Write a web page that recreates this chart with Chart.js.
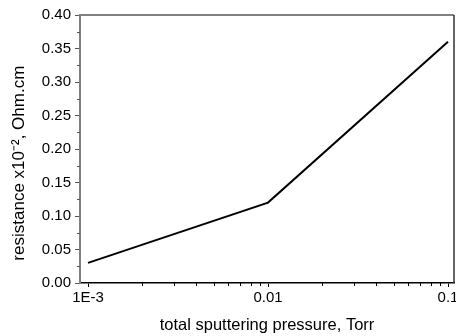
<!DOCTYPE html>
<html>
<head>
<meta charset="utf-8">
<script src="https://cdn.jsdelivr.net/npm/chart.js@4/dist/chart.umd.min.js"></script>
<style>
html,body{margin:0;padding:0;background:#fff;}
canvas{display:block;}
</style>
</head>
<body>
<canvas id="c" width="456" height="336"></canvas>
<script>
const pressure = [0.001, 0.01, 0.1];
const resistance = [0.03, 0.12, 0.36];
const xMajorTicks = [0.001, 0.01, 0.1];
const xTickLabels = ['1E-3', '0.01', '0.1'];
const xMinorTicks = [0.002,0.003,0.004,0.005,0.006,0.007,0.008,0.009,0.02,0.03,0.04,0.05,0.06,0.07,0.08,0.09];
const yMinorTicks = [0.025,0.075,0.125,0.175,0.225,0.275,0.325,0.375];
const xTitle = 'total sputtering pressure, Torr';
const yTitle = 'resistance x10\u207B\u00B2, Ohm.cm';

const FONT = "'Liberation Sans', Arial, sans-serif";

const framePlugin = {
  id: 'frame',
  afterDraw(chart) {
    const ctx = chart.ctx, a = chart.chartArea;
    const xs = chart.scales.x, ys = chart.scales.y;
    ctx.save();
    ctx.strokeStyle = '#808080'; ctx.lineWidth = 2;
    ctx.beginPath(); ctx.moveTo(a.left, a.top); ctx.lineTo(a.right, a.top); ctx.stroke();
    ctx.strokeStyle = '#333'; ctx.lineWidth = 1.5;
    ctx.beginPath(); ctx.moveTo(a.right, a.top); ctx.lineTo(a.right, a.bottom); ctx.stroke();
    ctx.strokeStyle = '#000'; ctx.lineWidth = 1;
    xMinorTicks.forEach(v => {
      const px = Math.round(xs.getPixelForValue(v)) + 0.5;
      ctx.beginPath(); ctx.moveTo(px, a.bottom); ctx.lineTo(px, a.bottom + 3); ctx.stroke();
    });
    ctx.strokeStyle = '#555';
    yMinorTicks.forEach(v => {
      const py = Math.round(ys.getPixelForValue(v)) + 0.5;
      ctx.beginPath(); ctx.moveTo(a.left, py); ctx.lineTo(a.left - 3, py); ctx.stroke();
    });
    ctx.restore();
  }
};

new Chart(document.getElementById('c'), {
  type: 'line',
  data: {
    datasets: [{
      data: pressure.map((p, i) => ({x: p, y: resistance[i]})),
      borderColor: '#000',
      borderWidth: 2,
      pointRadius: 0,
      tension: 0,
      fill: false
    }]
  },
  options: {
    responsive: false,
    animation: false,
    layout: {padding: {top: 15, right: 2, left: 0, bottom: 0}},
    plugins: {legend: {display: false}, tooltip: {enabled: false}},
    scales: {
      x: {
        type: 'logarithmic',
        min: 0.0009027,
        max: 0.10797,
        afterBuildTicks(scale) {
          scale.ticks = xMajorTicks.map(v => ({value: v, major: true}));
        },
        afterFit(scale) {
          scale.height = 53;
          scale.paddingLeft = 0;
          scale.paddingRight = 0;
        },
        ticks: {
          autoSkip: false,
          maxRotation: 0,
          color: '#000',
          font: {family: FONT, size: 15},
          padding: 2,
          callback(value) {
            const i = xMajorTicks.indexOf(value);
            return i >= 0 ? xTickLabels[i] : '';
          }
        },
        grid: {drawOnChartArea: false, tickLength: 4, tickColor: '#000', tickWidth: 1},
        border: {color: '#000', width: 1.5},
        title: {display: true, text: xTitle, color: '#000', font: {family: FONT, size: 16.5}, padding: {top: 0, bottom: 1}}
      },
      y: {
        type: 'linear',
        min: 0,
        max: 0.4,
        ticks: {
          stepSize: 0.05,
          color: '#000',
          font: {family: FONT, size: 15},
          padding: 4,
          callback(value) { return value.toFixed(2); }
        },
        afterFit(scale) {
          scale.width = 80;
        },
        grid: {drawOnChartArea: false, tickLength: 5, tickColor: '#555', tickWidth: 1},
        border: {color: '#808080', width: 2},
        title: {display: true, text: yTitle + '\u00A0\u00A0\u00A0\u00A0\u00A0\u00A0', color: '#000', font: {family: FONT, size: 17}, padding: {top: 9, bottom: 0}}
      }
    }
  },
  plugins: [framePlugin]
});
</script>
</body>
</html>
